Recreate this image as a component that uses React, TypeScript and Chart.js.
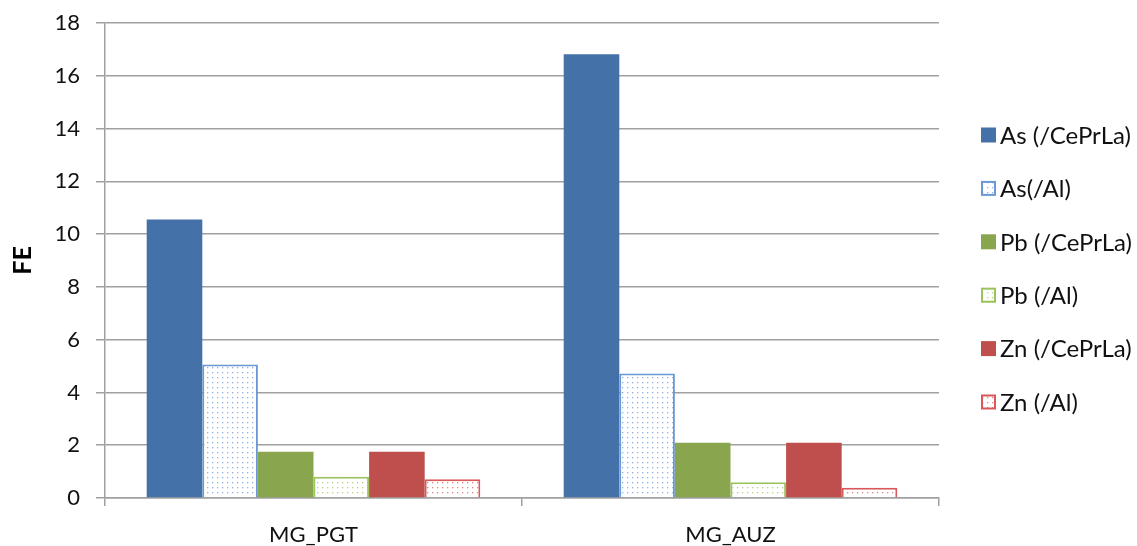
import React, { useEffect, useRef } from 'react';
import { Chart, registerables } from 'chart.js';

Chart.register(...registerables);

const categories = ['MG_PGT', 'MG_AUZ'];
const seriesLabels = ['As (/CePrLa)', 'As(/Al)', 'Pb (/CePrLa)', 'Pb (/Al)', 'Zn (/CePrLa)', 'Zn (/Al)'];
const asCePrLa = [10.55, 16.82];
const asAl = [5.06, 4.72];
const pbCePrLa = [1.75, 2.09];
const pbAl = [0.81, 0.6];
const znCePrLa = [1.75, 2.09];
const znAl = [0.71, 0.39];
const yMin = 0;
const yMax = 18;
const yStep = 2;
const yTitle = 'FE';

const BLUE = '#4571A9';
const GREEN = '#89A54E';
const RED = '#BF4F4C';
const BLUE_L = '#6A98D4';
const GREEN_L = '#9CC45C';
const RED_L = '#D9595A';
const GRID = '#a0a0a0';
const FONT = 'Lato, "Open Sans", sans-serif';
const TICK_SIZE = 22;
const LEGEND_SIZE = 24;

function dotPattern(color: string): CanvasPattern | string {
  const c = document.createElement('canvas');
  c.width = 5;
  c.height = 5;
  const g = c.getContext('2d');
  if (!g) return '#fff';
  g.fillStyle = '#ffffff';
  g.fillRect(0, 0, 5, 5);
  g.fillStyle = color;
  g.globalAlpha = 0.75;
  g.fillRect(2, 2, 1.3, 1.3);
  const p = g.createPattern(c, 'repeat');
  return p || '#fff';
}

const sideLegend = {
  id: 'sideLegend',
  afterDraw(chart: any) {
    const ctx: CanvasRenderingContext2D = chart.ctx;
    const area = chart.chartArea;
    const bx = area.right + 42;
    const y0 = area.top + 112;
    const step = 53.4;
    const box = 15;
    ctx.save();
    ctx.font = `${LEGEND_SIZE}px ${FONT}`;
    ctx.textBaseline = 'middle';
    ctx.textAlign = 'left';
    chart.data.datasets.forEach((ds: any, i: number) => {
      const cy = y0 + i * step;
      const top = cy - box / 2;
      ctx.fillStyle = ds.backgroundColor;
      ctx.fillRect(bx, top, box, box);
      if (ds.borderWidth > 0) {
        ctx.strokeStyle = ds.borderColor;
        ctx.lineWidth = 2;
        ctx.strokeRect(bx + 1, top + 1, box - 2, box - 2);
      }
      ctx.fillStyle = '#111';
      ctx.fillText(ds.label, bx + box + 4, cy + 1);
    });
    ctx.restore();
  },
};

export default function App() {
  const ref = useRef<HTMLCanvasElement | null>(null);

  useEffect(() => {
    if (!ref.current) return;
    const values = [asCePrLa, asAl, pbCePrLa, pbAl, znCePrLa, znAl];
    const solid = [BLUE, null, GREEN, null, RED, null];
    const light = [null, BLUE_L, null, GREEN_L, null, RED_L];
    const datasets = values.map((v, i) => {
      const isSolid = solid[i] !== null;
      return {
        label: seriesLabels[i],
        data: v,
        backgroundColor: isSolid ? (solid[i] as string) : dotPattern(light[i] as string),
        borderColor: isSolid ? (solid[i] as string) : (light[i] as string),
        borderWidth: isSolid ? 0 : 2,
        categoryPercentage: 0.8,
        barPercentage: 1.0,
      };
    });

    const chart = new Chart(ref.current, {
      type: 'bar',
      data: { labels: categories, datasets },
      plugins: [sideLegend],
      options: {
        animation: false,
        responsive: true,
        maintainAspectRatio: false,
        layout: { padding: { left: 0, right: 198, top: 23, bottom: 0 } },
        plugins: {
          legend: { display: false },
          tooltip: { enabled: false },
        },
        scales: {
          x: {
            afterFit: (s: any) => {
              s.height = 48;
            },
            grid: {
              offset: true,
              drawOnChartArea: false,
              drawTicks: true,
              tickLength: 8,
              color: GRID,
              lineWidth: 1.5,
            },
            border: { display: true, color: GRID, width: 1.5 },
            ticks: {
              font: { family: FONT, size: TICK_SIZE },
              color: '#111',
              padding: 16,
            },
          },
          y: {
            min: yMin,
            max: yMax,
            afterFit: (s: any) => {
              s.width = 105;
              s.paddingTop = 10;
              s.paddingBottom = 10;
            },
            ticks: {
              stepSize: yStep,
              font: { family: FONT, size: TICK_SIZE },
              color: '#111',
              padding: 16,
            },
            grid: {
              color: GRID,
              lineWidth: 1.5,
              drawTicks: true,
              tickLength: 9,
            },
            border: { display: true, color: GRID, width: 1.5 },
            title: {
              display: true,
              text: yTitle,
              font: { family: FONT, size: 25, weight: 'bold' },
              color: '#000',
              padding: { top: 8, bottom: 0 },
            },
          },
        },
      },
    });
    return () => chart.destroy();
  }, []);

  return (
    <div style={{ position: 'fixed', left: 0, top: 0, width: 1137, height: 546, background: '#fff' }}>
      <canvas ref={ref} />
    </div>
  );
}
